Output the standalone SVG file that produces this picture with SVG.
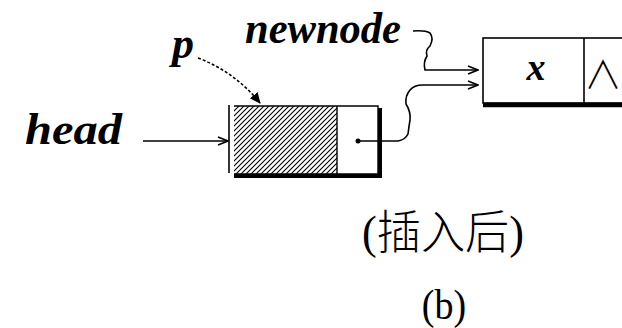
<svg xmlns="http://www.w3.org/2000/svg" width="622" height="328" viewBox="0 0 622 328">
<style>
.lbl{font-family:"Liberation Serif",serif;font-weight:bold;font-style:italic;fill:#000}
.ln{fill:none;stroke:#000;stroke-width:1.6}
.box{fill:#fff;stroke:#000;stroke-width:1.6}
.cap{font-family:"Liberation Serif","Noto Sans CJK SC",serif;fill:#000}
</style>
<defs>
<pattern id="hatch" patternUnits="userSpaceOnUse" width="5" height="5">
<path d="M-1,6 L6,-1 M-1,1 L1,-1 M4,6 L6,4" stroke="#000" stroke-width="1.1"/>
</pattern>
<marker id="open" markerWidth="12" markerHeight="10" refX="11" refY="5" orient="auto" markerUnits="userSpaceOnUse">
<path d="M1,1 L11,5 L1,9" fill="none" stroke="#000" stroke-width="1.6"/>
</marker>
<marker id="fill" markerWidth="12" markerHeight="12" refX="10" refY="6" orient="auto" markerUnits="userSpaceOnUse">
<path d="M0,1 L11,6 L0,11 Z" fill="#000"/>
</marker>
</defs>
<rect width="622" height="328" fill="#fff"/>

<g id="node1">
<rect x="234" y="106" width="103" height="68" fill="url(#hatch)"/>
<path d="M234,106 L378,106 L378,174 L234,174" fill="none" stroke="#000" stroke-width="1.4"/>
<line x1="337" y1="106" x2="337" y2="174" stroke="#000" stroke-width="1.4"/>
<path d="M380,108 L380,176 L234,176" fill="none" stroke="#000" stroke-width="4"/>
<circle cx="358" cy="141" r="2.5" fill="#000"/>
</g>

<g id="node2">
<rect x="483" y="38" width="160" height="65" class="box"/>
<line x1="584" y1="38" x2="584" y2="103" stroke="#000" stroke-width="1.6"/>
<line x1="483" y1="105" x2="622" y2="105" stroke="#000" stroke-width="4.5"/>
<text x="536" y="80" class="lbl" font-size="38" text-anchor="middle">x</text>
<text x="603" y="88" font-family="Noto Sans CJK SC,sans-serif" font-weight="300" font-size="38" text-anchor="middle" fill="#000">∧</text>
</g>

<g id="labels">
<text x="25" y="144" class="lbl" font-size="44" textLength="97" lengthAdjust="spacingAndGlyphs">head</text>
<text x="245" y="43" class="lbl" font-size="44" textLength="156" lengthAdjust="spacingAndGlyphs">newnode</text>
<text x="172" y="58" class="lbl" font-size="44">p</text>
</g>

<g id="connectors">
<line x1="143" y1="141" x2="228" y2="141" class="ln" marker-end="url(#open)"/>
<line x1="229" y1="105" x2="229" y2="173" stroke="#000" stroke-width="1.6"/>
<path d="M198,58 Q235,72 260,103" class="ln" stroke-dasharray="3,2" marker-end="url(#fill)"/>
<path d="M358,141 L398,141 Q405,140 408,134 Q409,126 410,120 Q411,112 406,104 Q405,96 410,90 Q414,85 423,85 L478,85" class="ln" marker-end="url(#open)"/>
<path d="M413,31 Q425,30 430,33 Q434,38 430,46 Q425,50 427,56 Q423,62 425,70 L478,70" class="ln" marker-end="url(#open)"/>
</g>

<g id="caption">
<text x="443" y="252" class="cap" font-size="40" font-weight="300" text-anchor="middle" transform="translate(0,-42) scale(1,1.15)" textLength="162" lengthAdjust="spacingAndGlyphs">(插入后)</text>
<text x="444" y="319" class="cap" font-size="38" text-anchor="middle" transform="translate(0,-29) scale(1,1.09)">(b)</text>
</g>
</svg>
